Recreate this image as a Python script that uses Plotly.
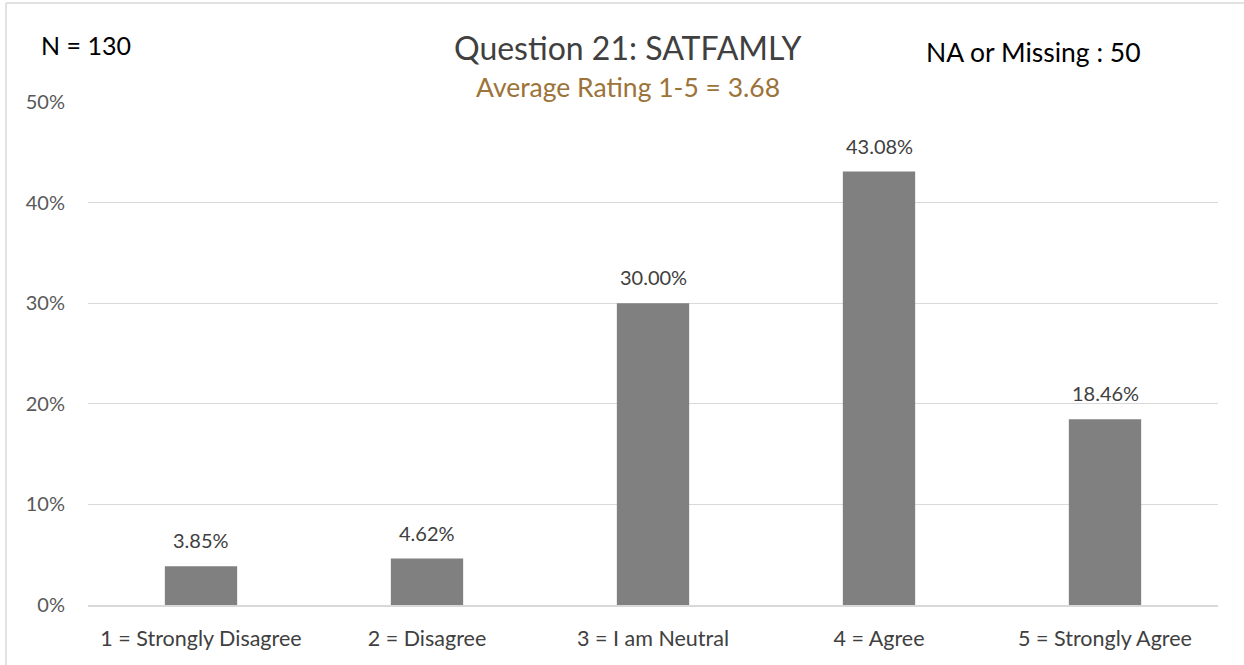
import plotly.graph_objects as go

categories = ["1 = Strongly Disagree", "2 = Disagree", "3 = I am Neutral", "4 = Agree", "5 = Strongly Agree"]
values = [3.85, 4.62, 30.00, 43.08, 18.46]
labels = ["3.85%", "4.62%", "30.00%", "43.08%", "18.46%"]
y_ticks = [0, 10, 20, 30, 40, 50]
y_tick_labels = ["0%", "10%", "20%", "30%", "40%", "50%"]

W, H = 1244, 665
L, R, T, B = 88, 26, 102, 60
pw, ph = W - L - R, H - T - B

def px(x):
    return (x - L) / pw

def py(y):
    return (H - B - y) / ph

FONT = "Lato"

fig = go.Figure(go.Bar(
    x=categories, y=values, width=0.32,
    marker=dict(color="#808080", line=dict(width=0)),
    hoverinfo="x+y",
))

annotations = [
    dict(x=c, y=v, text=t, xref="x", yref="y", showarrow=False,
         yanchor="bottom", yshift=12, font=dict(family=FONT, size=20, color="#404040"))
    for c, v, t in zip(categories, values, labels)
]

annotations += [
    dict(text="Question 21: SATFAMLY", x=px(627), y=py(48), xref="paper", yref="paper",
         showarrow=False, font=dict(family=FONT, size=32, color="#404040"),
         xanchor="center", yanchor="middle"),
    dict(text="Average Rating 1-5 = 3.68", x=px(628), y=py(87), xref="paper", yref="paper",
         showarrow=False, font=dict(family=FONT, size=26.5, color="#9c7338"),
         xanchor="center", yanchor="middle"),
    dict(text="N = 130", x=px(39), y=py(45), xref="paper", yref="paper",
         showarrow=False, font=dict(family=FONT, size=25, color="#000000"),
         xanchor="left", yanchor="middle"),
    dict(text="NA or Missing : 50", x=px(924), y=py(52), xref="paper", yref="paper",
         showarrow=False, font=dict(family=FONT, size=26.5, color="#000000"),
         xanchor="left", yanchor="middle"),
]

fig.update_layout(
    width=W, height=H,
    margin=dict(l=L, r=R, t=T, b=B),
    paper_bgcolor="white", plot_bgcolor="white",
    showlegend=False,
    xaxis=dict(showgrid=False, showline=True, linecolor="#d9d9d9", linewidth=1.5,
               tickfont=dict(family=FONT, size=21.5, color="#404040"), ticks="",
               ticklabelstandoff=13),
    yaxis=dict(range=[0, 50], tickvals=y_ticks, ticktext=y_tick_labels,
               showgrid=True, gridcolor="#d9d9d9", gridwidth=1.2, zeroline=False,
               tickfont=dict(family=FONT, size=20, color="#595959"), ticks="",
               ticklabelstandoff=22),
    annotations=annotations,
    shapes=[
        dict(type="line", xref="paper", yref="paper", x0=px(6), x1=px(1244), y0=py(3), y1=py(3),
             line=dict(color="#d9d9d9", width=1.5)),
        dict(type="line", xref="paper", yref="paper", x0=px(6), x1=px(6), y0=py(3), y1=py(665),
             line=dict(color="#d9d9d9", width=1.5)),
    ],
)

fig.write_html("out.html", config={"displayModeBar": False},
               post_script="document.body.style.margin='0';document.body.style.overflow='hidden';")
